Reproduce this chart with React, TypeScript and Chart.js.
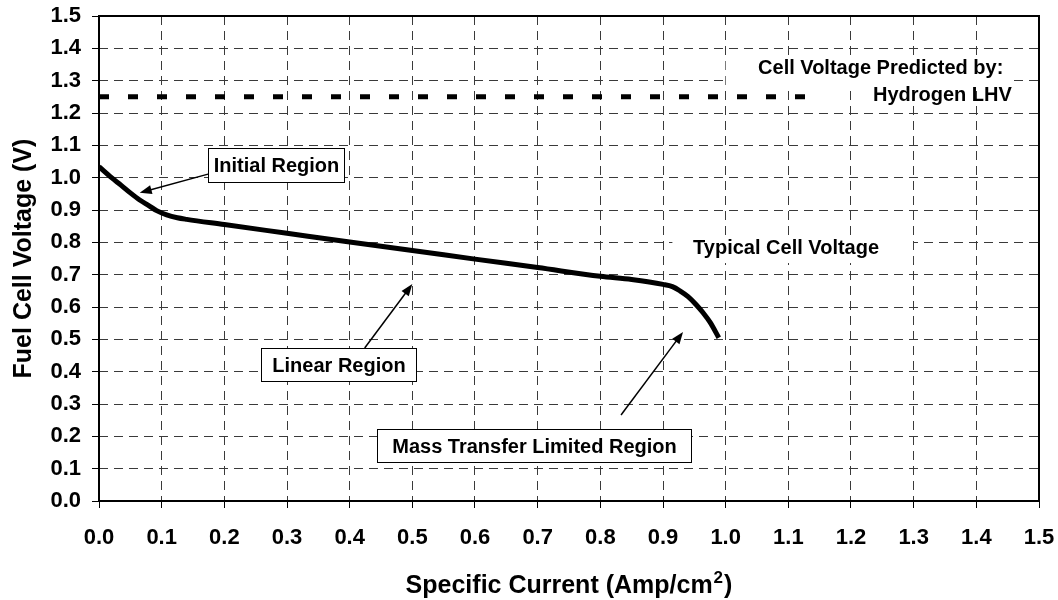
import React, { useEffect, useRef } from "react";
import { Chart, registerables } from "chart.js";

Chart.register(...registerables);

// ---------- data ----------
const currentDensity = [
  0, 0.02, 0.035, 0.05, 0.065, 0.08, 0.092, 0.108, 0.125, 0.14, 0.2, 0.3, 0.4,
  0.5, 0.6, 0.7, 0.8, 0.85, 0.9, 0.915, 0.927, 0.94, 0.953, 0.964, 0.975, 0.989,
];
const cellVoltage = [
  1.034, 1.0, 0.977, 0.953, 0.931, 0.913, 0.898, 0.885, 0.876, 0.871, 0.855,
  0.828, 0.801, 0.775, 0.748, 0.722, 0.695, 0.685, 0.67, 0.663, 0.65, 0.632,
  0.607, 0.582, 0.553, 0.505,
];
const lhvCurrent = [0, 1.14];
const lhvVoltage = [1.25, 1.25];

const xTickValues = [0, 0.1, 0.2, 0.3, 0.4, 0.5, 0.6, 0.7, 0.8, 0.9, 1.0, 1.1, 1.2, 1.3, 1.4, 1.5];
const yTickValues = [0, 0.1, 0.2, 0.3, 0.4, 0.5, 0.6, 0.7, 0.8, 0.9, 1.0, 1.1, 1.2, 1.3, 1.4, 1.5];

const xTitle = "Specific Current (Amp/cm";
const xTitleSup = "2";
const xTitleEnd = ")";
const yTitle = "Fuel Cell Voltage (V)";

// ---------- annotations (anchored in data units) ----------
const boxedNotes = [
  { text: "Initial Region", l: 0.174, r: 0.391, t: 1.092, b: 0.9866, fx: 0.174, fy: 1.011, tx: 0.065, ty: 0.953 },
  { text: "Linear Region", l: 0.2585, r: 0.506, t: 0.4732, b: 0.3711, fx: 0.424, fy: 0.4732, tx: 0.5, ty: 0.671 },
  { text: "Mass Transfer Limited Region", l: 0.4436, r: 0.9446, t: 0.2227, b: 0.1206, fx: 0.833, fy: 0.266, tx: 0.932, ty: 0.523 },
];
const freeNotes = [
  { text: "Cell Voltage Predicted by:", x: 1.0517, y: 1.339, bg: { l: 1.0, r: 1.4585, t: 1.37, b: 1.285 } },
  { text: "Hydrogen LHV", x: 1.235, y: 1.254, bg: null },
  { text: "Typical Cell Voltage", x: 0.948, y: 0.7825, bg: { l: 0.915, r: 1.299, t: 0.816, b: 0.736 } },
];

const FONT = '"Liberation Sans", Arial, Helvetica, sans-serif';

function drawArrow(ctx: CanvasRenderingContext2D, x1: number, y1: number, x2: number, y2: number) {
  const ang = Math.atan2(y2 - y1, x2 - x1);
  const head = 12;
  const half = 4.5;
  ctx.save();
  ctx.strokeStyle = "#000";
  ctx.fillStyle = "#000";
  ctx.lineWidth = 1.5;
  ctx.beginPath();
  ctx.moveTo(x1, y1);
  ctx.lineTo(x2 - Math.cos(ang) * head * 0.8, y2 - Math.sin(ang) * head * 0.8);
  ctx.stroke();
  ctx.beginPath();
  ctx.moveTo(x2, y2);
  ctx.lineTo(x2 - Math.cos(ang) * head - Math.sin(ang) * half, y2 - Math.sin(ang) * head + Math.cos(ang) * half);
  ctx.lineTo(x2 - Math.cos(ang) * head + Math.sin(ang) * half, y2 - Math.sin(ang) * head - Math.cos(ang) * half);
  ctx.closePath();
  ctx.fill();
  ctx.restore();
}

const notesPlugin = {
  id: "notes",
  beforeDatasetsDraw(chart: any) {
    const ctx = chart.ctx as CanvasRenderingContext2D;
    const xs = chart.scales.x;
    const ys = chart.scales.y;
    ctx.save();
    ctx.fillStyle = "#fff";
    for (const n of freeNotes) {
      if (!n.bg) continue;
      const l = xs.getPixelForValue(n.bg.l);
      const r = xs.getPixelForValue(n.bg.r);
      const t = ys.getPixelForValue(n.bg.t);
      const b = ys.getPixelForValue(n.bg.b);
      ctx.fillRect(l, t, r - l, b - t);
    }
    ctx.restore();
  },
  afterDraw(chart: any) {
    const ctx = chart.ctx as CanvasRenderingContext2D;
    const xs = chart.scales.x;
    const ys = chart.scales.y;
    const area = chart.chartArea;

    // frame / axes
    ctx.save();
    ctx.strokeStyle = "#000";
    ctx.lineWidth = 2;
    ctx.strokeRect(area.left, area.top, area.right - area.left, area.bottom - area.top);
    ctx.restore();

    // free text
    ctx.save();
    ctx.font = `bold 20px ${FONT}`;
    ctx.fillStyle = "#000";
    ctx.textBaseline = "middle";
    ctx.textAlign = "left";
    for (const n of freeNotes) {
      ctx.fillText(n.text, xs.getPixelForValue(n.x), ys.getPixelForValue(n.y));
    }
    ctx.restore();

    // boxed notes + arrows
    for (const n of boxedNotes) {
      drawArrow(
        ctx,
        xs.getPixelForValue(n.fx),
        ys.getPixelForValue(n.fy),
        xs.getPixelForValue(n.tx),
        ys.getPixelForValue(n.ty)
      );
      const l = Math.round(xs.getPixelForValue(n.l)) + 0.5;
      const r = Math.round(xs.getPixelForValue(n.r)) + 0.5;
      const t = Math.round(ys.getPixelForValue(n.t)) + 0.5;
      const b = Math.round(ys.getPixelForValue(n.b)) + 0.5;
      ctx.save();
      ctx.fillStyle = "#fff";
      ctx.fillRect(l, t, r - l, b - t);
      ctx.strokeStyle = "#000";
      ctx.lineWidth = 1;
      ctx.strokeRect(l, t, r - l, b - t);
      ctx.font = `bold 20px ${FONT}`;
      ctx.fillStyle = "#000";
      ctx.textAlign = "center";
      ctx.textBaseline = "middle";
      ctx.fillText(n.text, (l + r) / 2, (t + b) / 2 + 1);
      ctx.restore();
    }

    // axis titles
    ctx.save();
    ctx.fillStyle = "#000";
    ctx.font = `bold 25px ${FONT}`;
    ctx.textBaseline = "alphabetic";
    const mainW = ctx.measureText(xTitle).width;
    ctx.font = `bold 17px ${FONT}`;
    const supW = ctx.measureText(xTitleSup).width;
    ctx.font = `bold 25px ${FONT}`;
    const endW = ctx.measureText(xTitleEnd).width;
    const total = mainW + supW + endW + 2;
    const cx = (area.left + area.right) / 2;
    let x0 = cx - total / 2;
    const base = 593;
    ctx.textAlign = "left";
    ctx.fillText(xTitle, x0, base);
    ctx.font = `bold 17px ${FONT}`;
    ctx.fillText(xTitleSup, x0 + mainW + 1, base - 10);
    ctx.font = `bold 25px ${FONT}`;
    ctx.fillText(xTitleEnd, x0 + mainW + supW + 2, base);

    ctx.translate(31, (area.top + area.bottom) / 2);
    ctx.rotate(-Math.PI / 2);
    ctx.textAlign = "center";
    ctx.fillText(yTitle, 0, 0);
    ctx.restore();
  },
};

function zeroPad(s: any) {
  s.paddingTop = 0;
  s.paddingBottom = 0;
  s.paddingLeft = 0;
  s.paddingRight = 0;
}

export default function App() {
  const canvasRef = useRef<HTMLCanvasElement | null>(null);

  useEffect(() => {
    const canvas = canvasRef.current;
    if (!canvas) return;
    const tickFont = { family: FONT, size: 22, weight: "bold" as const };
    const chart = new Chart(canvas, {
      type: "line",
      data: {
        datasets: [
          {
            label: "Cell voltage",
            data: currentDensity.map((x, i) => ({ x, y: cellVoltage[i] })),
            borderColor: "#000",
            borderWidth: 5,
            pointRadius: 0,
            cubicInterpolationMode: "monotone",
            borderJoinStyle: "round",
            fill: false,
          },
          {
            label: "Hydrogen LHV",
            data: lhvCurrent.map((x, i) => ({ x, y: lhvVoltage[i] })),
            borderColor: "#000",
            borderWidth: 5,
            borderDash: [10, 19],
            borderCapStyle: "butt",
            pointRadius: 0,
            fill: false,
          },
        ],
      },
      options: {
        animation: false,
        responsive: false,
        maintainAspectRatio: false,
        events: [],
        layout: { padding: { top: 16, right: 19, left: 0, bottom: 0 } },
        plugins: {
          legend: { display: false },
          tooltip: { enabled: false },
          title: { display: false },
        },
        scales: {
          x: {
            type: "linear",
            min: 0,
            max: 1.5,
            afterFit: (s: any) => {
              s.height = 99;
              zeroPad(s);
            },
            afterBuildTicks: (s: any) => {
              s.ticks = xTickValues.map((v) => ({ value: v }));
            },
            ticks: {
              color: "#000",
              font: tickFont,
              padding: 17,
              maxRotation: 0,
              autoSkip: false,
              callback: (v: any) => Number(v).toFixed(1),
            },
            grid: {
              color: "#3a3a3a",
              lineWidth: 1,
              tickLength: 7,
              tickColor: "#000",
              tickWidth: 1,
              tickBorderDash: [],
            },
            border: { display: false, dash: [9, 6] },
          },
          y: {
            type: "linear",
            min: 0,
            max: 1.5,
            afterFit: (s: any) => {
              s.width = 99;
              zeroPad(s);
            },
            afterBuildTicks: (s: any) => {
              s.ticks = yTickValues.map((v) => ({ value: v }));
            },
            ticks: {
              color: "#000",
              font: tickFont,
              padding: 11,
              autoSkip: false,
              callback: (v: any) => Number(v).toFixed(1),
            },
            grid: {
              color: "#3a3a3a",
              lineWidth: 1,
              tickLength: 7,
              tickColor: "#000",
              tickWidth: 1,
              tickBorderDash: [],
            },
            border: { display: false, dash: [9, 6] },
          },
        },
      },
      plugins: [notesPlugin],
    } as any);
    return () => chart.destroy();
  }, []);

  return (
    <div style={{ position: "absolute", left: 0, top: 0, width: 1058, height: 600, background: "#fff" }}>
      <canvas ref={canvasRef} width={1058} height={600} style={{ display: "block" }} />
    </div>
  );
}
